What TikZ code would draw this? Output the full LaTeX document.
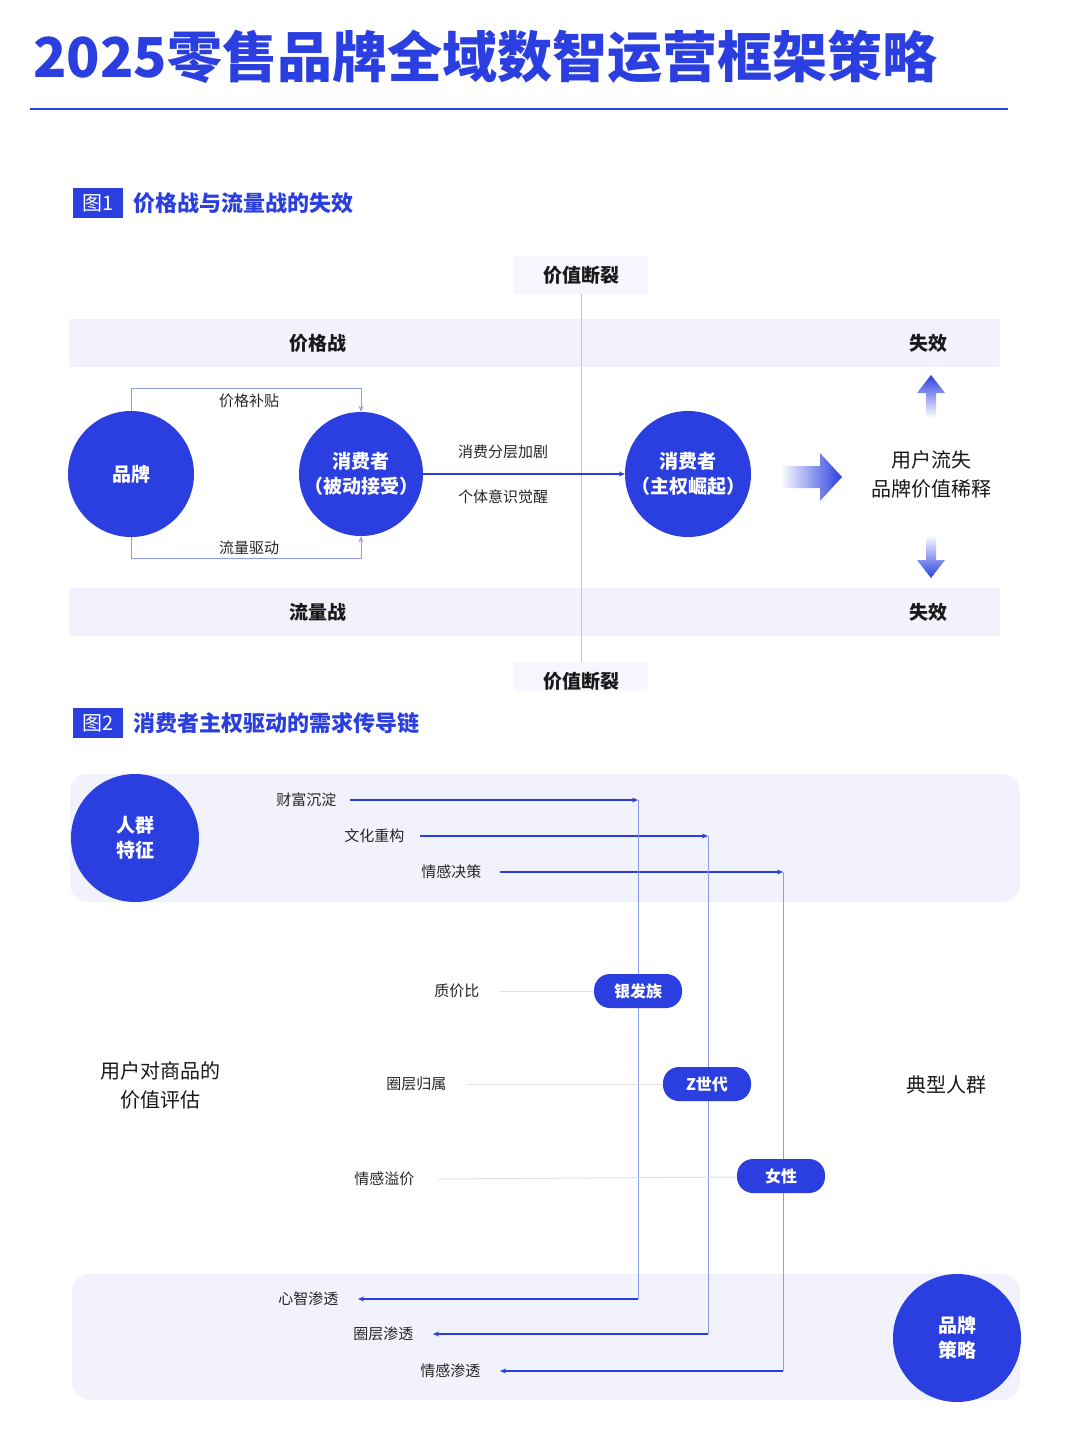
\documentclass[tikz,border=0pt]{standalone}
\usepackage{fontspec}
\setmainfont{Noto Sans CJK SC}
\usetikzlibrary{arrows.meta}
\definecolor{bl}{HTML}{2B3FE0}
\definecolor{band}{HTML}{F1F2FB}
\definecolor{lbl}{HTML}{8E9AF2}
\begin{document}
\begin{tikzpicture}[x=1pt,y=-1pt,
 circ/.style={circle,fill=bl,text=white,minimum size=#1,inner sep=0pt,align=center,font=\fontsize{19}{25}\selectfont\bfseries},
 txt/.style={font=\fontsize{15}{19}\selectfont,text=black!85},
 btxt/.style={font=\fontsize{19}{27}\selectfont\bfseries,text=black!90,align=center},
 mtxt/.style={font=\fontsize{20}{29}\selectfont,text=black!90,align=center},
 pill/.style={rounded corners=16pt,fill=bl,text=white,minimum width=88pt,minimum height=34pt,font=\fontsize{16}{19}\selectfont\bfseries},
 arr/.style={draw=bl,line width=2.2pt,-{Stealth[length=6pt,width=5pt]}},
 thin/.style={draw=lbl,line width=0.9pt},
 gl/.style={draw=black!12,line width=1pt}]
\useasboundingbox (0,0) rectangle (1080,1437);
\fill[white] (0,0) rectangle (1080,1437);
% title
\node[anchor=west,text=bl,font=\fontsize{55}{60}\selectfont\bfseries,inner sep=0] (title) at (33,57) {2025零售品牌全域数智运营框架策略};
\draw[bl,line width=1.2pt] (30,109) -- (1008,109);
% fig1 header
\node[fill=bl,text=white,minimum width=50pt,minimum height=30pt,inner sep=0,font=\fontsize{20}{22}\selectfont] (f1) at (98,203) {图1};
\node[anchor=west,text=bl,font=\fontsize{22}{24}\selectfont\bfseries] (f1t) at (130,203) {价格战与流量战的失效};
% bands
\fill[band] (69,319) rectangle (1000,367);
\fill[band] (69,588) rectangle (1000,636);
\draw[thin,draw=lbl!60] (581,294) -- (581,662);
\node[fill=band!70!blue!10,minimum width=134pt,minimum height=38pt,btxt] (vb1) at (581,275) {价值断裂};
\begin{scope}
\clip (0,600) rectangle (1080,690);
\node[fill=band!70!blue!10,minimum width=134pt,minimum height=38pt,btxt] (vb2) at (581,681) {价值断裂};
\end{scope}
\node[btxt] (pw) at (318,343) {价格战};
\node[btxt] (s1) at (928,343) {失效};
\node[btxt] (lw) at (318,612) {流量战};
\node[btxt] (s2) at (928,612) {失效};
% circles
\node[circ=126pt] (brand) at (131,474) {品牌};
\node[circ=124pt] (c1) at (361,474) {消费者\\（被动接受）};
\node[circ=126pt] (c2) at (688,474) {消费者\\（主权崛起）};
\draw[thin,-{Stealth[length=6pt,width=5pt]}] (brand.north) -- ++(0,-22) -| (c1.north);
\draw[thin,-{Stealth[length=6pt,width=5pt]}] (brand.south) -- ++(0,21) -| (c1.south);
\node[txt] (jb) at (249,401) {价格补贴};
\node[txt] (ll) at (249,548) {流量驱动};
\draw[arr] (c1.east) -- (c2.west);
\node[txt] (fc) at (503,452) {消费分层加剧};
\node[txt] (gt) at (503,497) {个体意识觉醒};
% big arrow
\shade[left color=white,right color=bl] (780,466) -- (820,466) -- (820,453) -- (842,477) -- (820,501) -- (820,488) -- (780,488) -- cycle;
\node[mtxt] (res) at (931,474) {用户流失\\品牌价值稀释};
\shade[top color=bl,bottom color=white] (926,418) -- (926,393) -- (917,393) -- (931,375) -- (945,393) -- (936,393) -- (936,418) -- cycle;
\shade[top color=white,bottom color=bl] (926,535) -- (926,560) -- (917,560) -- (931,578) -- (945,560) -- (936,560) -- (936,535) -- cycle;
% fig2 header
\node[fill=bl,text=white,minimum width=50pt,minimum height=30pt,inner sep=0,font=\fontsize{20}{22}\selectfont] (f2) at (98,723) {图2};
\node[anchor=west,text=bl,font=\fontsize{22}{24}\selectfont\bfseries] (f2t) at (130,723) {消费者主权驱动的需求传导链};
% bands fig2
\fill[band,rounded corners=18pt] (70,774) rectangle (1020,902);
\fill[band,rounded corners=18pt] (72,1274) rectangle (1020,1400);
\node[circ=128pt] (rq) at (135,838) {人群\\特征};
\node[circ=128pt] (pp) at (957,1338) {品牌\\策略};
% lines
\coordinate (a1) at (638,800); \coordinate (a2) at (708,836); \coordinate (a3) at (783,872);
\coordinate (b1) at (638,1299); \coordinate (b2) at (708,1334); \coordinate (b3) at (783,1371);
\node[txt,anchor=east] (t1) at (340,800) {财富沉淀};
\node[txt,anchor=east] (t2) at (408,836) {文化重构};
\node[txt,anchor=east] (t3) at (485,872) {情感决策};
\draw[arr] (t1.east)++(10,0) -- (a1);
\draw[arr] (t2.east)++(12,0) -- (a2);
\draw[arr] (t3.east)++(15,0) -- (a3);
\draw[thin] (a1) -- (b1); \draw[thin] (a2) -- (b2); \draw[thin] (a3) -- (b3);
\node[txt,anchor=east] (u1) at (342,1299) {心智渗透};
\node[txt,anchor=east] (u2) at (417,1334) {圈层渗透};
\node[txt,anchor=east] (u3) at (484,1371) {情感渗透};
\draw[arr] (b1) -- ([xshift=16pt]u1.east);
\draw[arr] (b2) -- ([xshift=16pt]u2.east);
\draw[arr] (b3) -- ([xshift=16pt]u3.east);
% pills
\node[txt,anchor=east] (q1) at (483,991) {质价比};
\node[txt,anchor=east] (q2) at (450,1084) {圈层归属};
\node[txt,anchor=east] (q3) at (418,1179) {情感溢价};
\draw[gl] ([xshift=17pt]q1.east) -- (595,991);
\draw[gl] ([xshift=17pt]q2.east) -- (664,1084);
\draw[gl] ([xshift=20pt]q3.east) -- (738,1177);
\node[pill] (p1) at (638,991) {银发族};
\node[pill] (p2) at (707,1084) {Z世代};
\node[pill] (p3) at (781,1176) {女性};
\node[mtxt] (ev) at (160,1085) {用户对商品的\\价值评估};
\node[mtxt] (dx) at (946,1085) {典型人群};
\end{tikzpicture}
\end{document}
